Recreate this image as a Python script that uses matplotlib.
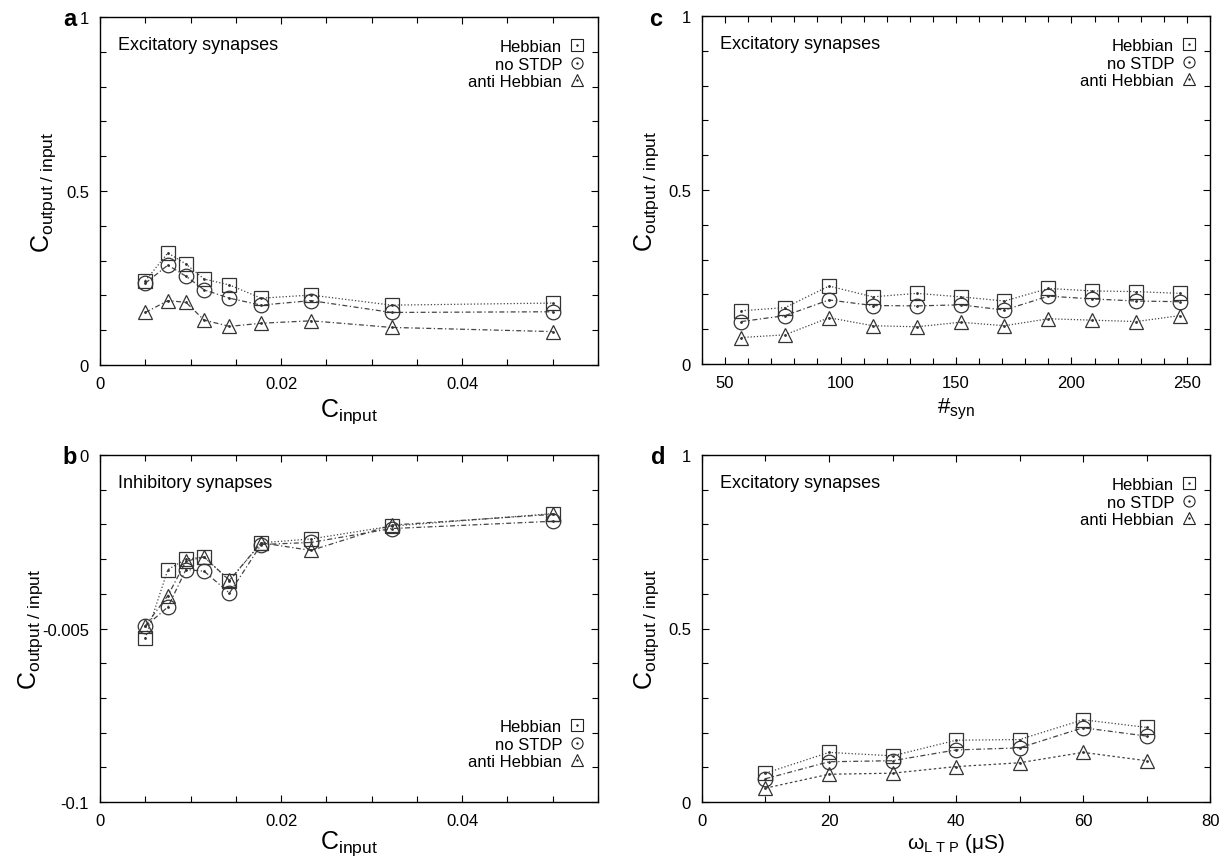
import matplotlib
matplotlib.use("Agg")
import matplotlib.pyplot as plt
from matplotlib.ticker import MultipleLocator, FixedLocator, FixedFormatter

plt.rcParams['font.family'] = ['Liberation Sans', 'DejaVu Sans']
plt.rcParams['mathtext.fontset'] = 'custom'
plt.rcParams['mathtext.rm'] = 'Liberation Sans'
plt.rcParams['mathtext.it'] = 'Liberation Sans'

# data
c_input = [0.005, 0.0075, 0.0095, 0.0115, 0.0143, 0.0178, 0.0233, 0.0322, 0.05]
a_hebb = [0.242, 0.322, 0.290, 0.247, 0.230, 0.192, 0.201, 0.172, 0.178]
a_nostdp = [0.235, 0.287, 0.255, 0.216, 0.192, 0.172, 0.185, 0.151, 0.153]
a_anti = [0.151, 0.185, 0.180, 0.129, 0.111, 0.120, 0.127, 0.108, 0.096]

b_hebb = [-0.0528, -0.0330, -0.0300, -0.0294, -0.0362, -0.0253, -0.0242, -0.0205, -0.0169]
b_nostdp = [-0.0494, -0.0438, -0.0330, -0.0335, -0.0398, -0.0258, -0.0252, -0.0212, -0.0191]
b_anti = [-0.0492, -0.0405, -0.0306, -0.0294, -0.0361, -0.0253, -0.0275, -0.0202, -0.0171]

n_syn = [57, 76, 95, 114, 133, 152, 171, 190, 209, 228, 247]
c_hebb = [0.153, 0.162, 0.224, 0.193, 0.203, 0.193, 0.181, 0.217, 0.210, 0.208, 0.203]
c_nostdp = [0.122, 0.139, 0.184, 0.168, 0.167, 0.170, 0.155, 0.195, 0.187, 0.181, 0.179]
c_anti = [0.076, 0.084, 0.133, 0.110, 0.107, 0.120, 0.110, 0.130, 0.126, 0.122, 0.139]

w_ltp = [10, 20, 30, 40, 50, 60, 70]
d_hebb = [0.083, 0.143, 0.133, 0.178, 0.180, 0.237, 0.215]
d_nostdp = [0.067, 0.116, 0.119, 0.150, 0.156, 0.214, 0.190]
d_anti = [0.040, 0.080, 0.083, 0.102, 0.113, 0.143, 0.119]

labels = ["Hebbian", "no STDP", "anti Hebbian"]
markers = ["s", "o", "^"]
W, H = 1230, 862
fig = plt.figure(figsize=(W / 100, H / 100), dpi=100)


def box(l, r, t, b):
    return fig.add_axes([l / W, (H - b) / H, (r - l) / W, (b - t) / H])


def draw(ax, x, ys, styles, legloc, legpos):
    handles = []
    for y, m, ls, lab in zip(ys, markers, styles, labels):
        ax.plot(x, y, color='#444444', linestyle=ls, linewidth=0.9, zorder=2)
        ax.plot(x, y, linestyle='none', marker=m, markersize=10.5 if m != 's' else 9.5,
                markerfacecolor='none', markeredgecolor='#333333', markeredgewidth=0.9, zorder=3)
        ax.plot(x, y, linestyle='none', marker='.', markersize=2, color='#333333', zorder=3)
        h1, = ax.plot([], [], linestyle='none', marker=m, markersize=8,
                      markerfacecolor='none', markeredgecolor='#222222', markeredgewidth=0.8)
        h2, = ax.plot([], [], linestyle='none', marker='.', markersize=1.5, color='#222222')
        handles.append((h1, h2))
    ax.legend(handles, labels, loc=legloc, bbox_to_anchor=legpos, frameon=False,
              markerfirst=False, handlelength=0.8, handletextpad=0.5,
              labelspacing=0.15, fontsize=12, borderaxespad=0)


def style(ax):
    ax.tick_params(which='both', direction='in', top=True, right=True, labelsize=12, pad=8)
    ax.tick_params(which='major', length=5, width=0.8)
    ax.tick_params(which='minor', length=4, width=0.8)
    for s in ax.spines.values():
        s.set_linewidth(1.0)


ylab = r'C$_{\rm output\ /\ input}$'

# a
ax = box(100, 598, 18, 366)
draw(ax, c_input, [a_hebb, a_nostdp, a_anti], [':', (0, (4, 2, 1, 2)), (0, (4, 2, 1, 2))],
     'upper right', (0.985, 0.955))
ax.set_xlim(0, 0.055)
ax.set_ylim(0, 1)
ax.xaxis.set_major_locator(FixedLocator([0, 0.02, 0.04]))
ax.xaxis.set_major_formatter(FixedFormatter(['0', '0.02', '0.04']))
ax.xaxis.set_minor_locator(MultipleLocator(0.005))
ax.yaxis.set_major_locator(FixedLocator([0, 0.5, 1]))
ax.yaxis.set_major_formatter(FixedFormatter(['0', '0.5', '1']))
ax.yaxis.set_minor_locator(MultipleLocator(0.1))
style(ax)
ax.text(0.036, 0.922, 'Excitatory synapses', transform=ax.transAxes, fontsize=13, va='center')
ax.set_xlabel(r'C$_{\rm input}$', fontsize=18, labelpad=4)
ax.set_ylabel(ylab, fontsize=18)
ax.yaxis.set_label_coords(-0.085, 0.5)
fig.text(70 / W, 1 - 19 / H, 'a', fontsize=17, fontweight='bold', ha='center', va='center')

# b
ax = box(100, 598, 456, 803)
draw(ax, c_input, [b_hebb, b_nostdp, b_anti], [':', (0, (4, 2, 1, 2)), (0, (4, 2, 1, 2))],
     'lower right', (0.985, 0.075))
ax.set_xlim(0, 0.055)
ax.set_ylim(-0.1, 0)
ax.xaxis.set_major_locator(FixedLocator([0, 0.02, 0.04]))
ax.xaxis.set_major_formatter(FixedFormatter(['0', '0.02', '0.04']))
ax.xaxis.set_minor_locator(MultipleLocator(0.005))
ax.yaxis.set_major_locator(FixedLocator([-0.1, -0.05, 0]))
ax.yaxis.set_major_formatter(FixedFormatter(['-0.1', '-0.005', '0']))
ax.yaxis.set_minor_locator(MultipleLocator(0.01))
style(ax)
ax.text(0.036, 0.92, 'Inhibitory synapses', transform=ax.transAxes, fontsize=13, va='center')
ax.set_xlabel(r'C$_{\rm input}$', fontsize=18, labelpad=0)
ax.set_ylabel(ylab, fontsize=18)
ax.yaxis.set_label_coords(-0.11, 0.5)
fig.text(70 / W, 1 - 458 / H, 'b', fontsize=17, fontweight='bold', ha='center', va='center')

# c
ax = box(702, 1210, 17, 365)
draw(ax, n_syn, [c_hebb, c_nostdp, c_anti], [':', (0, (4, 2, 1, 2)), (0, (1, 1.5))],
     'upper right', (0.985, 0.955))
ax.set_xlim(40, 260)
ax.set_ylim(0, 1)
ax.xaxis.set_major_locator(MultipleLocator(50))
ax.xaxis.set_minor_locator(MultipleLocator(10))
ax.yaxis.set_major_locator(FixedLocator([0, 0.5, 1]))
ax.yaxis.set_major_formatter(FixedFormatter(['0', '0.5', '1']))
ax.yaxis.set_minor_locator(MultipleLocator(0.1))
style(ax)
ax.text(0.036, 0.922, 'Excitatory synapses', transform=ax.transAxes, fontsize=13, va='center')
ax.set_xlabel(r'#$_{\rm syn}$', fontsize=16, labelpad=4)
ax.set_ylabel(ylab, fontsize=18)
ax.yaxis.set_label_coords(-0.08, 0.5)
fig.text(656 / W, 1 - 19 / H, 'c', fontsize=17, fontweight='bold', ha='center', va='center')

# d
ax = box(702, 1210, 456, 803)
draw(ax, w_ltp, [d_hebb, d_nostdp, d_anti], [':', (0, (4, 2, 1, 2)), (0, (2, 2))],
     'upper right', (0.985, 0.955))
ax.set_xlim(0, 80)
ax.set_ylim(0, 1)
ax.xaxis.set_major_locator(MultipleLocator(20))
ax.xaxis.set_minor_locator(MultipleLocator(10))
ax.yaxis.set_major_locator(FixedLocator([0, 0.5, 1]))
ax.yaxis.set_major_formatter(FixedFormatter(['0', '0.5', '1']))
ax.yaxis.set_minor_locator(MultipleLocator(0.1))
style(ax)
ax.text(0.036, 0.922, 'Excitatory synapses', transform=ax.transAxes, fontsize=13, va='center')
ax.set_xlabel(r'$\omega_{\rm L\ T\ P}$ ($\mu$S)', fontsize=15, labelpad=2)
ax.set_ylabel(ylab, fontsize=18)
ax.yaxis.set_label_coords(-0.08, 0.5)
fig.text(658 / W, 1 - 458 / H, 'd', fontsize=17, fontweight='bold', ha='center', va='center')

fig.savefig('out.png', dpi=100)
